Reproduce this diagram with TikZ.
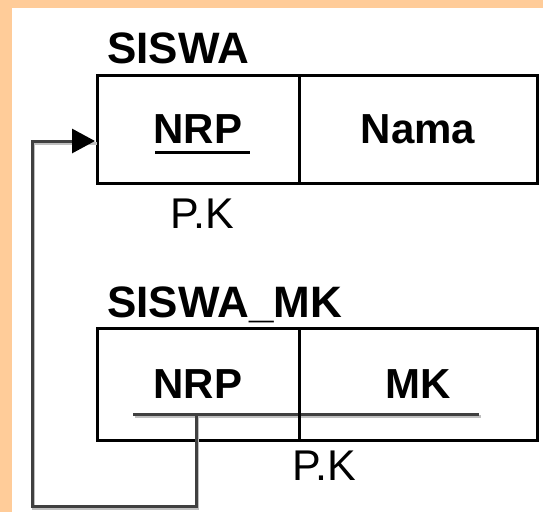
\documentclass[tikz,border=0pt]{standalone}
\usepackage{fontspec}
\setmainfont{Liberation Sans}
\usetikzlibrary{positioning}
\usetikzlibrary{arrows.meta}
\definecolor{frame}{HTML}{FFCC99}
\tikzset{
  field/.style={draw, line width=3pt, outer sep=0pt, inner sep=0pt,
    minimum height=108pt, font=\fontsize{42}{50}\selectfont\bfseries},
  title/.style={anchor=base west, inner sep=0pt,
    font=\fontsize{44}{52}\selectfont\bfseries},
  pk/.style={anchor=base, inner sep=0pt, font=\fontsize{43}{50}\selectfont},
  keyline/.style={line width=3pt, black!75},
  shade/.style={line width=3pt, black!25, transform canvas={shift={(1.5pt,-2pt)}}},
}

\begin{document}
\begin{tikzpicture}[x=1pt,y=-1pt]
\useasboundingbox (0,0) rectangle (543,512);
\fill[frame] (0,0) rectangle (543,512);
\fill[white] (12,8) rectangle (543,512);

% table SISWA
\node[field, minimum width=202pt, anchor=north west] (nrp1) at (97,75) {NRP};
\node[field, minimum width=238pt, right=0pt of nrp1] (nama) {Nama};
\node[title] (siswa) at ([xshift=10pt,yshift=12pt]nrp1.north west) {SISWA};
\node[pk] (pk1) at ([xshift=4pt,yshift=-45pt]nrp1.south) {P.K};
\draw[line width=3pt] ([xshift=-43pt,yshift=-23.5pt]nrp1.center) -- ++(95,0);

% table SISWA_MK
\coordinate (fk) at (196,414);
\coordinate (corner) at (32,506);
\draw[shade] (133,414) -- (479,414);
\draw[keyline] (133,414) -- (479,414);
\node[field, minimum width=202pt, minimum height=112pt, anchor=north west] (nrp2) at (97,328) {NRP};
\node[field, minimum width=238pt, minimum height=112pt, right=0pt of nrp2] (mk) {MK};
\node[title] (siswamk) at ([xshift=10pt,yshift=11pt]nrp2.north west) {SISWA\_MK};
\node[pk] (pk2) at ([xshift=25pt,yshift=-40pt]nrp2.south east) {P.K};

% reference NRP -> SISWA
\coordinate (target) at ([xshift=-2pt,yshift=-12pt]nrp1.west);
\draw[shade] (fk) |- (corner) |- (target);
\draw[keyline, -{Triangle[length=23pt,width=24pt,color=black]}] (fk) |- (corner) |- (target);
\end{tikzpicture}
\end{document}
